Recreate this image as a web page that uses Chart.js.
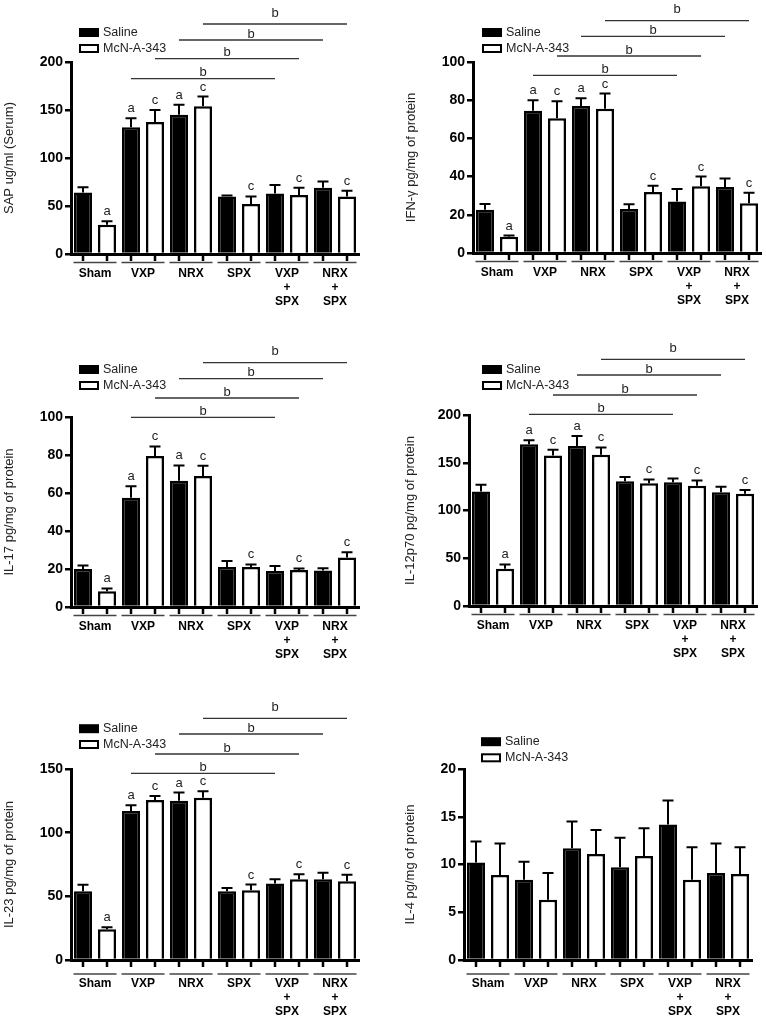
<!DOCTYPE html>
<html>
<head>
<meta charset="utf-8">
<script src="https://cdn.jsdelivr.net/npm/chart.js@4.4.1/dist/chart.umd.min.js"></script>
<style>
  body { margin: 0; background: #fff; width: 766px; height: 1022px; position: relative; overflow: hidden; }
  canvas { position: absolute; }
</style>
</head>
<body>
<canvas id="sap" width="383" height="330" style="left:0;top:0"></canvas>
<canvas id="ifn" width="383" height="330" style="left:383px;top:0"></canvas>
<canvas id="il17" width="383" height="340" style="left:0;top:330px"></canvas>
<canvas id="il12" width="383" height="340" style="left:383px;top:330px"></canvas>
<canvas id="il23" width="383" height="352" style="left:0;top:670px"></canvas>
<canvas id="il4" width="383" height="352" style="left:383px;top:670px"></canvas>
<script>
const groups = ["Sham", "VXP", "NRX", "SPX", ["VXP", "+", "SPX"], ["NRX", "+", "SPX"]];

const sapSaline = [64, 132, 145, 60, 63, 69];
const sapSalineErr = [5.5, 9.5, 10.5, 1, 9, 6.5];
const sapMcn = [30.5, 137.5, 154, 52, 61.5, 60];
const sapMcnErr = [3.5, 12.5, 10, 8, 7.5, 6];

const ifnSaline = [22.7, 74.5, 77, 23, 27, 34.5];
const ifnSalineErr = [3, 5.5, 4, 2.5, 6.5, 4.5];
const ifnMcn = [8.5, 70.5, 75.5, 32, 35, 26];
const ifnMcnErr = [0.6, 9, 8, 3.2, 5, 5.5];

const il17Saline = [20, 57.5, 66.5, 21, 19, 19.2];
const il17SalineErr = [1.8, 6, 8, 3.2, 2.6, 1.2];
const il17Mcn = [8.3, 79.5, 69, 21, 19.5, 26];
const il17McnErr = [1.5, 5, 5.3, 1.4, 0.8, 2.8];

const il12Saline = [120, 169.5, 167.5, 130.5, 129.5, 119];
const il12SalineErr = [7, 4, 10.5, 4.5, 4, 6];
const il12Mcn = [39, 157.5, 158.5, 128.5, 126, 117.5];
const il12McnErr = [4.5, 6, 7.5, 4, 5.5, 4];

const il23Saline = [54, 117, 125, 54, 60, 63.5];
const il23SalineErr = [5, 4.5, 6.5, 2.6, 3.5, 5];
const il23Mcn = [24.2, 125.7, 127.5, 54.7, 63.4, 61.8];
const il23McnErr = [1.6, 3, 5, 4.5, 4, 5.2];

const il4Saline = [10.2, 8.4, 11.7, 9.7, 14.2, 9.1];
const il4SalineErr = [2.2, 1.9, 2.8, 3.1, 2.5, 3.1];
const il4Mcn = [8.9, 6.3, 11.1, 10.9, 8.4, 9.0];
const il4McnErr = [3.3, 2.8, 2.5, 2.9, 3.4, 2.8];

const salineLetters = ["", "a", "a", "", "", ""];
const mcnLetters = ["a", "c", "c", "c", "c", "c"];
// [dataset, group] -> [dataset, group], lowest line first
const bracketPairs = [[0, 1, 0, 4], [1, 1, 1, 4], [0, 2, 0, 5], [1, 2, 1, 5]];

const panels = [
  { id: "sap", title: "SAP ug/ml (Serum)", max: 200, step: 50, saline: sapSaline, salineErr: sapSalineErr, mcn: sapMcn, mcnErr: sapMcnErr, marks: true,
    w: 383, h: 330, left: 71, right: 359, top: 62, bottom: 254, titlePad: 2, legendX: 79, legendY: [32.5, 48.5], bracketY: [78.7, 58.7, 40, 24], labelPad: 12.5, lineOff: 8.5 },
  { id: "ifn", title: "IFN-\u03b3 pg/mg of protein", max: 100, step: 20, saline: ifnSaline, salineErr: ifnSalineErr, mcn: ifnMcn, mcnErr: ifnMcnErr, marks: true,
    w: 383, h: 330, left: 90, right: 378, top: 62, bottom: 253, titlePad: 20.5, legendX: 99, legendY: [32.5, 48.5], bracketY: [75.3, 56, 36.3, 20.7], labelPad: 12.5, lineOff: 8.5 },
  { id: "il17", title: "IL-17 pg/mg of protein", max: 100, step: 20, saline: il17Saline, salineErr: il17SalineErr, mcn: il17Mcn, mcnErr: il17McnErr, marks: true,
    w: 383, h: 340, left: 71, right: 359, top: 87, bottom: 277, titlePad: 2, legendX: 79, legendY: [39.5, 55.5], bracketY: [87.3, 68, 48.7, 32.7], labelPad: 12.5, lineOff: 8.5 },
  { id: "il12", title: "IL-12p70 pg/mg of protein", max: 200, step: 50, saline: il12Saline, salineErr: il12SalineErr, mcn: il12Mcn, mcnErr: il12McnErr, marks: true,
    w: 383, h: 340, left: 86, right: 374, top: 85, bottom: 276, titlePad: 19.7, legendX: 99, legendY: [39.5, 55.5], bracketY: [84.3, 65, 45, 29.3], labelPad: 12.5, lineOff: 8.5 },
  { id: "il23", title: "IL-23 pg/mg of protein", max: 150, step: 50, saline: il23Saline, salineErr: il23SalineErr, mcn: il23Mcn, mcnErr: il23McnErr, marks: true,
    w: 383, h: 352, left: 71, right: 359, top: 99, bottom: 290, titlePad: 2, legendX: 79, legendY: [58.7, 74.5], bracketY: [103.3, 84, 64, 48.3], labelPad: 17, lineOff: 14 },
  { id: "il4", title: "IL-4 pg/mg of protein", max: 20, step: 5, saline: il4Saline, salineErr: il4SalineErr, mcn: il4Mcn, mcnErr: il4McnErr, marks: false,
    w: 383, h: 352, left: 81, right: 369, top: 99, bottom: 290, titlePad: 19.7, legendX: 98, legendY: [71.7, 87.8], bracketY: [], labelPad: 17, lineOff: 14 }
];

Chart.defaults.font.family = "'Liberation Sans', Arial, sans-serif";

const extras = {
  id: "extras",
  afterDatasetsDraw: function (chart, args, opts) {
    const p = opts.panel;
    const ctx = chart.ctx;
    const ys = chart.scales.y;
    const xs = chart.scales.x;
    const area = chart.chartArea;
    const sets = [[p.saline, p.salineErr, salineLetters], [p.mcn, p.mcnErr, mcnLetters]];
    ctx.save();
    ctx.strokeStyle = "#000";
    sets.forEach(function (s, d) {
      chart.getDatasetMeta(d).data.forEach(function (bar, i) {
        const top = ys.getPixelForValue(s[0][i] + s[1][i]);
        ctx.lineWidth = 2;
        ctx.beginPath();
        ctx.moveTo(bar.x, bar.y);
        ctx.lineTo(bar.x, top);
        ctx.moveTo(bar.x - 5.5, top);
        ctx.lineTo(bar.x + 5.5, top);
        ctx.stroke();
        ctx.lineWidth = 2.5;
        ctx.beginPath();
        ctx.moveTo(bar.x, area.bottom);
        ctx.lineTo(bar.x, area.bottom + 7);
        ctx.stroke();
        if (p.marks && s[2][i]) {
          ctx.fillStyle = "#222";
          ctx.font = "13px 'Liberation Sans', Arial, sans-serif";
          ctx.textAlign = "center";
          ctx.textBaseline = "alphabetic";
          ctx.fillText(s[2][i], bar.x, top - 6);
        }
      });
    });

    // group underlines
    const half = (area.right - area.left) / groups.length / 2;
    ctx.strokeStyle = "#444";
    ctx.lineWidth = 1.5;
    groups.forEach(function (g, i) {
      const c = xs.getPixelForValue(i);
      ctx.beginPath();
      ctx.moveTo(c - half + 2.5, area.bottom + p.lineOff);
      ctx.lineTo(c + half - 2.5, area.bottom + p.lineOff);
      ctx.stroke();
    });

    // significance lines
    if (p.marks) {
      bracketPairs.forEach(function (b, k) {
        const x1 = chart.getDatasetMeta(b[0]).data[b[1]].x;
        const x2 = chart.getDatasetMeta(b[2]).data[b[3]].x;
        const yy = p.bracketY[k];
        ctx.strokeStyle = "#333";
        ctx.lineWidth = 1.3;
        ctx.beginPath();
        ctx.moveTo(x1, yy);
        ctx.lineTo(x2, yy);
        ctx.stroke();
        ctx.fillStyle = "#222";
        ctx.font = "13px 'Liberation Sans', Arial, sans-serif";
        ctx.textAlign = "center";
        ctx.textBaseline = "alphabetic";
        ctx.fillText("b", (x1 + x2) / 2, yy - (k === 3 ? 7.5 : 2.5));
      });
    }

    // legend
    const ds = chart.data.datasets;
    ctx.fillStyle = "#000";
    ctx.fillRect(p.legendX, p.legendY[0] - 4.5, 20, 9);
    ctx.strokeStyle = "#000";
    ctx.lineWidth = 2;
    ctx.strokeRect(p.legendX + 1, p.legendY[1] - 3.5, 18, 7);
    ctx.fillStyle = "#222";
    ctx.font = "12.5px 'Liberation Sans', Arial, sans-serif";
    ctx.textAlign = "left";
    ctx.textBaseline = "middle";
    ctx.fillText(ds[0].label, p.legendX + 24, p.legendY[0]);
    ctx.fillText(ds[1].label, p.legendX + 24, p.legendY[1]);
    ctx.restore();
  }
};

panels.forEach(function (p) {
  new Chart(document.getElementById(p.id), {
    type: "bar",
    data: {
      labels: groups,
      datasets: [
        { label: "Saline", data: p.saline, backgroundColor: "#000", borderColor: "#000", borderWidth: 2.5, categoryPercentage: 1, barPercentage: 0.75 },
        { label: "McN-A-343", data: p.mcn, backgroundColor: "#fff", borderColor: "#000", borderWidth: 2.5, categoryPercentage: 1, barPercentage: 0.75 }
      ]
    },
    options: {
      responsive: false,
      animation: false,
      layout: { padding: { left: 0, top: p.top, right: p.w - p.right, bottom: 0 } },
      plugins: { legend: { display: false }, tooltip: { enabled: false }, extras: { panel: p } },
      scales: {
        x: {
          grid: { display: false, drawTicks: false },
          border: { display: true, color: "#000", width: 3, z: 1 },
          ticks: { color: "#000", font: { size: 12, weight: "bold", lineHeight: 1.17 }, padding: p.labelPad, maxRotation: 0, autoSkip: false },
          afterFit: function (s) { s.height = p.h - p.bottom; }
        },
        y: {
          min: 0,
          max: p.max,
          ticks: { stepSize: p.step, color: "#000", font: { size: 14, weight: "bold" }, padding: 2 },
          grid: { display: true, drawOnChartArea: false, drawTicks: true, tickLength: 6, color: "#000", lineWidth: 2.5 },
          border: { display: true, color: "#000", width: 3 },
          title: { display: true, text: p.title, color: "#222", font: { size: 13 }, padding: { top: p.titlePad, bottom: 0 } },
          afterFit: function (s) { s.width = p.left; }
        }
      }
    },
    plugins: [extras]
  });
});
</script>
</body>
</html>
